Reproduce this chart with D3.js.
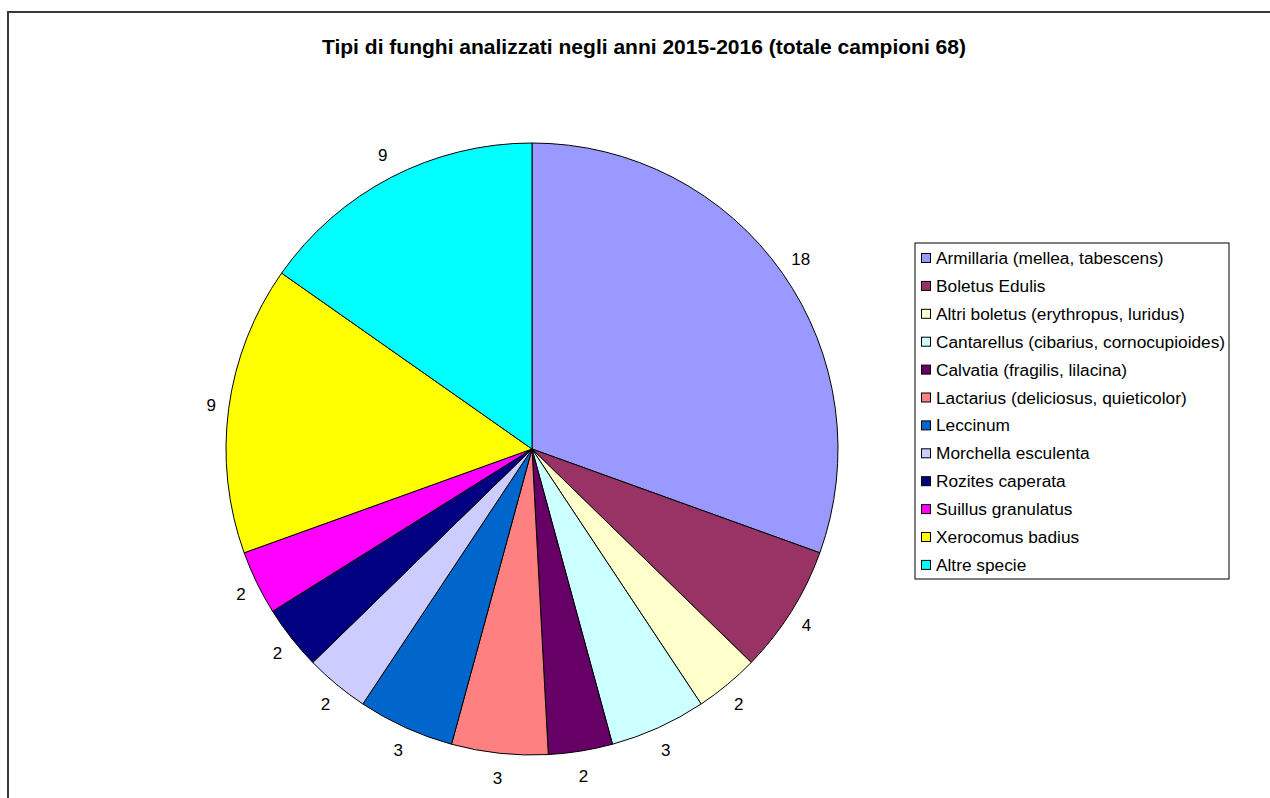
<!DOCTYPE html>
<html>
<head>
<meta charset="utf-8">
<script src="https://cdn.jsdelivr.net/npm/d3@7"></script>
<style>
  html, body { margin: 0; padding: 0; background: #fff; }
  svg { display: block; }
  text { font-family: Arial, "Liberation Sans", sans-serif; fill: #000; }
</style>
</head>
<body>
<svg id="chart" width="1270" height="798"></svg>
<script>
// Mushroom species sampled in 2015-2016
const species = [
  "Armillaria (mellea, tabescens)",
  "Boletus Edulis",
  "Altri boletus (erythropus, luridus)",
  "Cantarellus (cibarius, cornocupioides)",
  "Calvatia (fragilis, lilacina)",
  "Lactarius (deliciosus, quieticolor)",
  "Leccinum",
  "Morchella esculenta",
  "Rozites caperata",
  "Suillus granulatus",
  "Xerocomus badius",
  "Altre specie"
];
const counts = [18, 4, 2, 3, 2, 3, 3, 2, 2, 2, 9, 9];
const palette = [
  "#9999FF", "#993366", "#FFFFCC", "#CCFFFF", "#660066", "#FF8080",
  "#0066CC", "#CCCCFF", "#000080", "#FF00FF", "#FFFF00", "#00FFFF"
];
const title = "Tipi di funghi analizzati negli anni 2015-2016 (totale campioni 68)";

const svg = d3.select("#chart");

// outer chart-area frame (only top and left edges fall inside the view)
svg.append("rect")
  .attr("x", 8).attr("y", 12)
  .attr("width", 1300).attr("height", 820)
  .attr("fill", "none")
  .attr("stroke", "#3a3a3a")
  .attr("stroke-width", 2);

svg.append("text")
  .attr("x", 644).attr("y", 54)
  .attr("text-anchor", "middle")
  .attr("font-size", 21)
  .attr("font-weight", "bold")
  .attr("textLength", 644)
  .attr("lengthAdjust", "spacingAndGlyphs")
  .text(title);

const cx = 532, cy = 449, radius = 306;
const data = species.map((name, i) => ({ name, value: counts[i], color: palette[i] }));

const pie = d3.pie().value(d => d.value).sort(null);
const arcs = pie(data);
const arc = d3.arc().innerRadius(0).outerRadius(radius);

const g = svg.append("g").attr("transform", `translate(${cx},${cy})`);

g.selectAll("path.slice")
  .data(arcs)
  .join("path")
  .attr("class", "slice")
  .attr("d", arc)
  .attr("fill", d => d.data.color)
  .attr("stroke", "#000")
  .attr("stroke-width", 1)
  .attr("stroke-linejoin", "round");

// value labels sit just outside the rim; the label box is pushed out
// by its half-width / half-height so its inner edge keeps a constant gap
const labelR = 319, halfH = 12;
g.selectAll("text.value")
  .data(arcs)
  .join("text")
  .attr("class", "value")
  .attr("text-anchor", "middle")
  .attr("dy", "0.35em")
  .attr("font-size", 17)
  .text(d => d.data.value)
  .attr("transform", function(d) {
    const a = (d.startAngle + d.endAngle) / 2;
    const s = Math.sin(a), c = -Math.cos(a);
    const halfW = this.getComputedTextLength() / 2;
    return `translate(${labelR * s + s * halfW},${labelR * c + c * halfH})`;
  });

// legend
const lx = 915, ly = 243, lw = 314, lh = 336, rowH = 27.9;
const legend = svg.append("g");
legend.append("rect")
  .attr("x", lx).attr("y", ly)
  .attr("width", lw).attr("height", lh)
  .attr("fill", "#fff")
  .attr("stroke", "#000")
  .attr("stroke-width", 1);

const items = legend.selectAll("g.item")
  .data(data)
  .join("g")
  .attr("class", "item")
  .attr("transform", (d, i) => `translate(${lx + 6},${ly + 15 + i * rowH})`);

items.append("rect")
  .attr("x", 0.5).attr("y", -4.5)
  .attr("width", 9).attr("height", 9)
  .attr("fill", d => d.color)
  .attr("stroke", "#000")
  .attr("stroke-width", 1);

items.append("text")
  .attr("x", 15)
  .attr("dy", "0.35em")
  .attr("font-size", 17.3)
  .text(d => d.name);
</script>
</body>
</html>
